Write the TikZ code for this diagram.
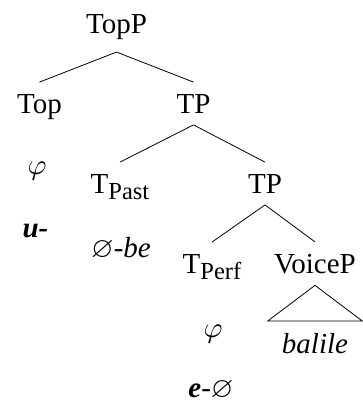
\documentclass[tikz,border=0pt]{standalone}
\usepackage{amssymb}
\DeclareFontShape{OML}{cmm}{m}{it}{<-6>cmmi5<6-8>cmmi7<8->cmmi10}{}
\DeclareFontFamily{U}{msb}{}
\DeclareFontShape{U}{msb}{m}{n}{<-6>msbm5<6-8>msbm7<8->msbm10}{}
\usepackage{fontspec}
\setmainfont{Liberation Serif}
\newcommand{\lsub}[1]{\raisebox{-0.22em}{\fontsize{24.5}{28}\selectfont #1}}

\begin{document}
\begin{tikzpicture}[
  x=1pt,y=-1pt,
  font=\fontsize{29}{34}\selectfont,
  cat/.style={anchor=base,inner xsep=0pt,inner ysep=11.7pt},
  roof/.style={cat,inner xsep=14pt},
  expo/.style={anchor=base,inner sep=0pt},
  branch/.style={line width=0.8pt,black}]
\useasboundingbox (0,0) rectangle (362,404);
% categories
\node[cat] (topp) at (116.5,34) {TopP};
\node[cat] (top) at (39.5,113) {Top};
\node[cat] (tp1) at (193.5,113) {TP};
\node[cat] (tpast) at (120,193) {T\lsub{Past}};
\node[cat] (tp2) at (265,193) {TP};
\node[cat] (tperf) at (212,273) {T\lsub{Perf}};
\node[cat] (voicep) at (315,273) {VoiceP};
\node[roof] (balile) at (315,353) {\textit{balile}};
% exponents
\node[expo,anchor=center] (phitop) at (37,171) {$\varphi$};
\node[expo] (utop) at (35.5,237) {\textbf{\textit{u-}}};
\node[expo] (bepast) at (121,257) {\textit{$\varnothing$-be}};
\node[expo,anchor=center] (phiperf) at (213,334) {$\varphi$};
\node[expo] (eperf) at (211,397) {\textbf{\textit{e}}-$\varnothing$};
% branches
\draw[branch] (topp.south) -- (top.north);
\draw[branch] (topp.south) -- (tp1.north);
\draw[branch] (tp1.south) -- (tpast.north);
\draw[branch] (tp1.south) -- (tp2.north);
\draw[branch] (tp2.south) -- (tperf.north);
\draw[branch] (tp2.south) -- (voicep.north);
\draw[branch] (voicep.south) -- (balile.north west) -- (balile.north east) -- cycle;
\end{tikzpicture}
\end{document}
